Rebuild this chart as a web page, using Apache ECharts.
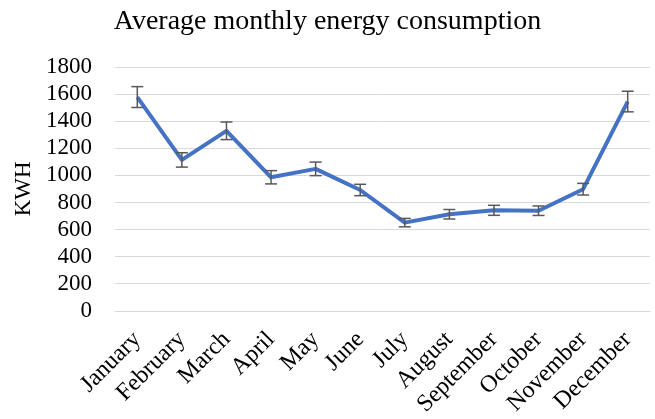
<!DOCTYPE html>
<html>
<head>
<meta charset="utf-8">
<script src="https://cdn.jsdelivr.net/npm/echarts@6/dist/echarts.min.js"></script>
<style>
  html, body { margin: 0; padding: 0; background: #fff; }
  #chart { width: 655px; height: 419px; }
</style>
</head>
<body>
<div id="chart"></div>
<script>
// data
const months = ['January', 'February', 'March', 'April', 'May', 'June',
  'July', 'August', 'September', 'October', 'November', 'December'];
const avgKwh = [1578, 1114, 1329, 986, 1048, 892, 651, 713, 742, 739, 898, 1545];
const errKwh = [77, 53, 65, 49, 50, 42, 31, 35, 37, 35, 43, 76];

const serif = '"Liberation Serif", "Times New Roman", serif';
const myChart = echarts.init(document.getElementById('chart'));

const errData = avgKwh.map((v, i) => [i, v - errKwh[i], v + errKwh[i]]);

const option = {
  animation: false,
  title: {
    text: 'Average monthly energy consumption',
    left: 'center',
    top: 3,
    textStyle: { fontFamily: serif, fontWeight: 'normal', fontSize: 28, color: '#000' }
  },
  grid: { left: 115, right: 5, top: 67, bottom: 108 },
  xAxis: {
    type: 'category',
    data: months,
    boundaryGap: true,
    axisLine: { lineStyle: { color: '#d9d9d9' } },
    axisTick: { show: false },
    axisLabel: {
      rotate: 45,
      interval: 0,
      margin: 25,
      fontFamily: serif,
      fontSize: 24,
      color: '#000'
    }
  },
  yAxis: {
    type: 'value',
    min: 0,
    max: 1800,
    interval: 200,
    name: 'KWH',
    nameLocation: 'middle',
    nameGap: 80,
    nameTextStyle: { fontFamily: serif, fontSize: 23, color: '#000' },
    axisLine: { show: false },
    axisTick: { show: false },
    axisLabel: {
      fontFamily: serif,
      fontSize: 23,
      color: '#000',
      margin: 23,
      formatter: v => String(v)
    },
    splitLine: { lineStyle: { color: '#d9d9d9', width: 1 } }
  },
  series: [
    {
      name: 'KWH',
      type: 'line',
      data: avgKwh,
      symbol: 'none',
      lineStyle: { color: '#4472C4', width: 4, join: 'round' },
      z: 2
    },
    {
      name: 'error',
      type: 'custom',
      data: errData,
      z: 3,
      renderItem: function (params, api) {
        const lo = api.coord([api.value(0), api.value(1)]);
        const hi = api.coord([api.value(0), api.value(2)]);
        const hw = 6;
        const style = { stroke: '#595959', lineWidth: 1.5 };
        return {
          type: 'group',
          children: [
            { type: 'line', shape: { x1: hi[0], y1: hi[1], x2: lo[0], y2: lo[1] }, style: style },
            { type: 'line', shape: { x1: hi[0] - hw, y1: hi[1], x2: hi[0] + hw, y2: hi[1] }, style: style },
            { type: 'line', shape: { x1: lo[0] - hw, y1: lo[1], x2: lo[0] + hw, y2: lo[1] }, style: style }
          ]
        };
      }
    }
  ]
};
myChart.setOption(option);
</script>
</body>
</html>
